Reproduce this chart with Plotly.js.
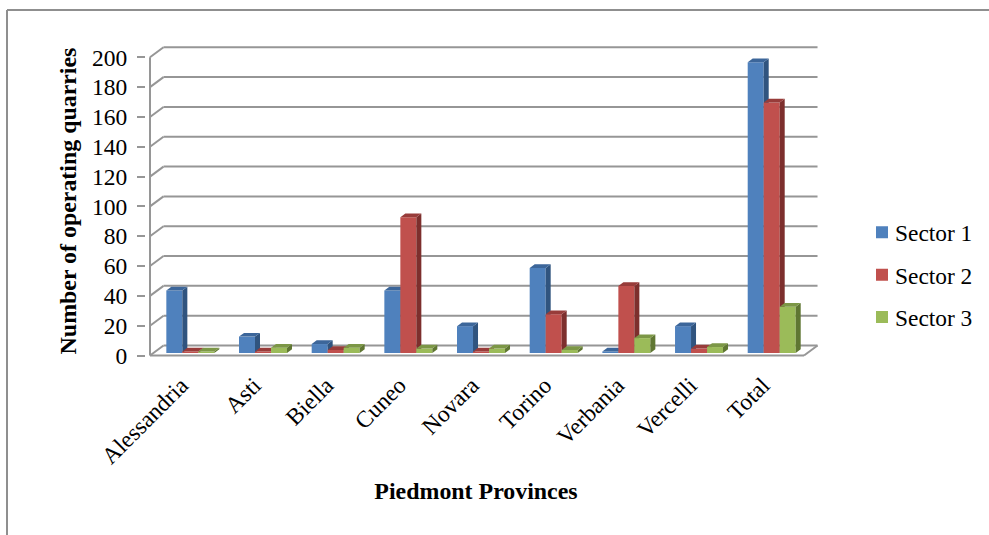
<!DOCTYPE html>
<html>
<head>
<meta charset="utf-8">
<script src="https://cdn.plot.ly/plotly-3.0.1.min.js"></script>
<style>html,body{margin:0;padding:0;background:#fff}#chart{width:989px;height:535px}</style>
</head>
<body>
<div id="chart"></div>
<script>
// Operating quarries per Piedmont province, split by sector
const provinces = ['Alessandria','Asti','Biella','Cuneo','Novara','Torino','Verbania','Vercelli','Total'];
const sector1 = [42, 11, 6, 42, 18, 57, 1, 18, 195];
const sector2 = [1, 1, 2, 91, 1, 26, 45, 3, 168];
const sector3 = [1, 3.5, 3.5, 3, 3, 2, 10, 4, 31];
const yTicks = [0,20,40,60,80,100,120,140,160,180,200];

const seriesNames = ['Sector 1','Sector 2','Sector 3'];
const seriesValues = [sector1, sector2, sector3];
const frontColors = ['#4f81bd','#c0504d','#9bbb59'];
const sideColors  = ['#30547f','#7d2f2d','#5f7632'];
const topColors   = ['#3c669a','#983c3a','#7c9746'];

const GRID = '#969696';
const SERIF = '"Liberation Serif","Times New Roman",serif';

// Pixel scales of the plot box, used to express the oblique projection in axis units
const PX_X = 72.67, PX_Y = 1.491;
const margin = {l:146, r:169, t:44, b:177, autoexpand:false};
const plotW = 989 - margin.l - margin.r, plotH = 535 - margin.t - margin.b;
const xRange = [-4/PX_X, (989-169-150)/PX_X];
const yRange = [-2.5/PX_Y, (355.5-44)/PX_Y];

// Depth of the floor and walls, and of each box
const wallDX = 13.5/PX_X, wallDY = 10/PX_Y;
const boxDX = 5/PX_X, boxDY = 3.7/PX_Y;
const boxW = 16/PX_X;
const gapDX = 4/PX_X, gapDY = 2.5/PX_Y;
const nCat = provinces.length;

const line = (x0, y0, x1, y1) => ({type:'line', layer:'below', xref:'x', yref:'y', x0, y0, x1, y1,
                                   line:{color:GRID, width:2}});
// Frame round the chart, given in window pixels
const frame = (px0, py0, px1, py1) => ({type:'line', layer:'below', xref:'paper', yref:'paper',
  x0:(px0-margin.l)/plotW, x1:(px1-margin.l)/plotW,
  y0:1-(py0-margin.t)/plotH, y1:1-(py1-margin.t)/plotH,
  line:{color:'#8f8f8f', width:2}});

// Back wall, floor and front edges
const wallShapes = [];
yTicks.forEach(v => {
  wallShapes.push(line(0, v, wallDX, v + wallDY));
  wallShapes.push(line(wallDX, v + wallDY, nCat + wallDX, v + wallDY));
});
wallShapes.push(line(0, 0, 0, 200), line(0, 0, nCat, 0), line(nCat, 0, nCat + wallDX, wallDY));
wallShapes.push(frame(7, 10, 989, 10), frame(7, 10, 7, 535));

const traces = [];

// Each series gets its own overlaid axis pair, so later series paint over earlier ones
seriesNames.forEach((name, s) => {
  const suffix = s === 0 ? '' : String(s + 1);
  const xa = 'x' + suffix, ya = 'y' + suffix;
  const values = seriesValues[s];
  const xs = values.map((_, i) => i + 0.5 + gapDX + (s - 1) * boxW);
  traces.push({type:'bar', name, x:xs, y:values, base:values.map(() => gapDY), width:boxW,
               xaxis:xa, yaxis:ya, marker:{color:frontColors[s], line:{width:0}}, legendgroup:name, hoverinfo:'y'});
  const sx = [], sy = [], tx = [], ty = [];
  values.forEach((v, i) => {
    const l = xs[i] - boxW/2, r = xs[i] + boxW/2, b = gapDY, t = v + gapDY;
    sx.push(r, r + boxDX, r + boxDX, r, r, null);
    sy.push(b, b + boxDY, t + boxDY, t, b, null);
    tx.push(l, l + boxDX, r + boxDX, r, l, null);
    ty.push(t, t + boxDY, t + boxDY, t, t, null);
  });
  [[sx, sy, sideColors[s]], [tx, ty, topColors[s]]].forEach(([fx, fy, col]) => {
    traces.push({type:'scatter', mode:'none', x:fx, y:fy, fill:'toself', fillcolor:col,
                 xaxis:xa, yaxis:ya, showlegend:false, hoverinfo:'skip', legendgroup:name});
  });
});

const tickFont = {family:SERIF, size:23.5, color:'#000'};
const titleFont = {family:SERIF, size:23.9, color:'#000'};
const layout = {
  width:989, height:535, margin, paper_bgcolor:'#fff', plot_bgcolor:'rgba(0,0,0,0)',
  showlegend:true,
  legend:{x:1 + 42/plotW, xanchor:'left', y:1 - (275-margin.t)/plotH, yanchor:'middle',
          font:{family:SERIF, size:23.4, color:'#000'}, tracegroupgap:9, itemwidth:30, bgcolor:'rgba(0,0,0,0)'},
  xaxis:{range:xRange, tickmode:'array', tickvals:provinces.map((_, i) => i + 0.5), ticktext:provinces,
         tickangle:-45, ticks:'', showgrid:false, zeroline:false, showline:false, tickfont:tickFont,
         ticklabelstandoff:8, ticklabelshift:-5,
         title:{text:'<b>Piedmont Provinces</b>', font:titleFont, standoff:14}},
  yaxis:{range:yRange, tickmode:'array', tickvals:yTicks, ticks:'outside', ticklen:8, tickwidth:2, tickcolor:GRID,
         ticklabelstandoff:5, showgrid:false, zeroline:false, showline:false, tickfont:tickFont,
         title:{text:'<b>Number of operating quarries</b>', font:titleFont, standoff:8}},
  xaxis2:{overlaying:'x', matches:'x', visible:false, anchor:'y2'},
  yaxis2:{overlaying:'y', matches:'y', visible:false, anchor:'x2'},
  xaxis3:{overlaying:'x', matches:'x', visible:false, anchor:'y3'},
  yaxis3:{overlaying:'y', matches:'y', visible:false, anchor:'x3'},
  shapes:wallShapes
};

Plotly.newPlot('chart', traces, layout, {displayModeBar:false, staticPlot:true}).then(() => {
  // Bring the legend labels closer to their swatches
  document.querySelectorAll('.legendtext').forEach(t => t.setAttribute('x', +t.getAttribute('x') - 7));
  // Centre the x title under the category span rather than the wider plot box
  const xTitle = document.querySelector('.xtitle');
  xTitle.setAttribute('x', +xTitle.getAttribute('x') - 7);
});
</script>
</body>
</html>
